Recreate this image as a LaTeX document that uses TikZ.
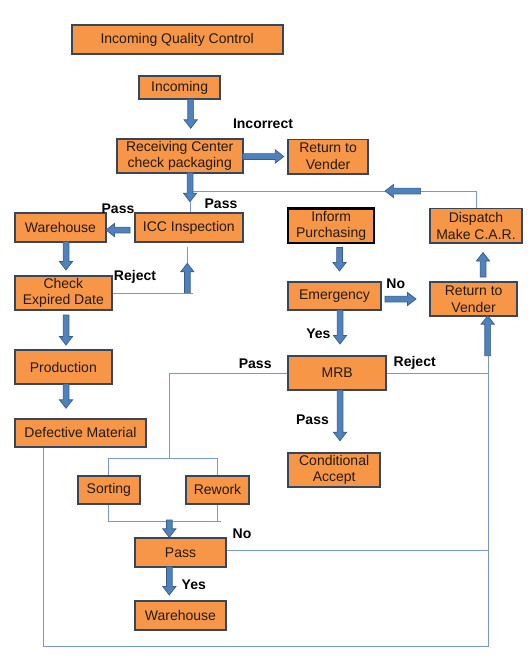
\documentclass[tikz,border=0pt]{standalone}
\usepackage{fontspec}
\setmainfont{Liberation Sans}
\definecolor{boxfill}{HTML}{F79646}
\definecolor{boxedge}{HTML}{34475F}
\definecolor{boxtext}{HTML}{231A12}
\definecolor{arrfill}{HTML}{4F81BD}
\definecolor{arredge}{HTML}{385D8A}
\definecolor{connline}{HTML}{7A9AC6}
\tikzset{
  box/.style={draw=boxedge, line width=1.8pt, fill=boxfill, inner sep=0pt,
    align=center, text=boxtext, font=\fontsize{14}{16.7}\selectfont},
  lbl/.style={font=\bfseries\fontsize{14}{16}\selectfont, inner sep=0pt, text=black},
  conn/.style={draw=connline, line width=0.9pt},
  blk/.style={draw=arredge, fill=arrfill, line width=0.7pt, line join=miter},
}
% \bx[opts]{name}{x1}{y1}{x2}{y2}{text}
\newcommand\bx[7][]{%
  \node[box, minimum width={(#5)-(#3)}, minimum height={(#6)-(#4)}, #1]
    (#2) at ({((#3)+(#5))/2},{((#4)+(#6))/2}) {#7};}
% block arrow from (x1,y1) to (x2,y2)
\newcommand\barrow[4]{%
  \pgfmathsetmacro\bdx{(#3)-(#1)}%
  \pgfmathsetmacro\bdy{(#4)-(#2)}%
  \pgfmathsetmacro\blen{veclen(\bdx,\bdy)}%
  \pgfmathsetmacro\bux{(\bdx)/(\blen)}%
  \pgfmathsetmacro\buy{(\bdy)/(\blen)}%
  \pgfmathsetmacro\bb{(\blen)-8.5}%
  \path[blk] ({#1-2.9*(\buy)},{#2+2.9*(\bux)})
    -- ({#1+(\bb)*(\bux)-2.9*(\buy)},{#2+(\bb)*(\buy)+2.9*(\bux)})
    -- ({#1+(\bb)*(\bux)-6.6*(\buy)},{#2+(\bb)*(\buy)+6.6*(\bux)})
    -- (#3,#4)
    -- ({#1+(\bb)*(\bux)+6.6*(\buy)},{#2+(\bb)*(\buy)-6.6*(\bux)})
    -- ({#1+(\bb)*(\bux)+2.9*(\buy)},{#2+(\bb)*(\buy)-2.9*(\bux)})
    -- ({#1+2.9*(\buy)},{#2-2.9*(\bux)}) -- cycle;}
\begin{document}
\begin{tikzpicture}[x=1pt,y=-1pt]
\useasboundingbox[fill=white] (0,0) rectangle (530,666);

% boxes
\bx{title}{71.6}{25.1}{282.8}{53.8}{Incoming Quality Control}
\bx{inc}{139.3}{76}{220}{99.3}{Incoming}
\bx{rc}{116.7}{139}{242.7}{172.7}{Receiving Center\\check packaging}
\bx{ret1}{288.2}{139.5}{367.9}{173.6}{Return to\\Vender}
\bx{icc}{135}{213.3}{242.7}{241.7}{ICC Inspection}
\bx{wh1}{15}{213.3}{106}{241.7}{Warehouse}
\bx{chk}{15}{276}{111.7}{310}{Check\\Expired Date}
\bx[draw=black, line width=2.2pt]{inf}{288.2}{208.4}{374}{243.1}{Inform\\Purchasing}
\bx{dis}{430}{208.4}{522}{243.1}{Dispatch\\Make C.A.R.}
\bx{emg}{288.3}{282.3}{380.7}{310}{Emergency}
\bx{ret2}{430}{282.3}{517.3}{315.7}{Return to\\Vender}
\bx{prod}{15}{350}{111.7}{384}{Production}
\bx{def}{15}{419}{146}{446.7}{Defective Material}
\bx{mrb}{288.3}{356}{386}{390}{MRB}
\bx{cond}{288.3}{452.7}{380}{487.3}{Conditional\\Accept}
\bx{sort}{77.7}{475.7}{140}{504}{Sorting}
\bx{rew}{185.7}{475.7}{249.3}{504}{Rework}
\bx{pass}{135}{538.3}{226}{566.7}{Pass}
\bx{wh2}{135}{601}{226}{630}{Warehouse}

% thin connectors
\coordinate (topj) at (190,191);
\draw[conn] (dis.north) |- (topj);
\draw[conn] (190,201.7) -- (190,0 |- icc.north);
\coordinate (rejx) at (192.7,0 |- chk.east);
\draw[conn] (chk.east) -- (rejx);
\draw[conn] (187.3,263.3) -- (187.3,247.3);
\coordinate (mrbj) at (169.3,458.3);
\draw[conn] (mrb.west) -| (mrbj);
\draw[conn] (sort.north) -- (sort.north |- mrbj) -| (rew.north);
\coordinate (botj) at (220.7,521.7);
\draw[conn] (sort.south) -- (sort.south |- botj) -- (botj);
\draw[conn] (rew.south) -- (rew.south |- botj);
\coordinate (rline) at (488.3,550.5);
\draw[conn] (pass.east |- rline) -- (rline);
\coordinate (rbot) at (488.3,646.7);
\draw[conn] (def.south -| 43.3,0) |- (rbot) -- (488.3,355.7);
\draw[conn] (mrb.east) -- (mrb.east -| rbot);

% block arrows
\barrow{190.7}{99.3}{190.7}{128.3}
\barrow{242.7}{156.5}{283.8}{156.5}
\barrow{190}{172.7}{190}{201.7}
\barrow{420.6}{191}{385.1}{191}
\barrow{130}{230}{106}{230}
\barrow{66}{241.7}{66}{270}
\barrow{66}{315}{66}{345}
\barrow{66}{384}{66}{408.3}
\barrow{187.3}{292.7}{187.3}{263.3}
\barrow{339.5}{247.5}{339.5}{271}
\barrow{385}{299}{416}{299}
\barrow{483}{277}{483}{252.5}
\barrow{340}{310}{340}{344}
\barrow{340}{390}{340}{440.7}
\barrow{169.3}{520}{169.3}{537.3}
\barrow{169.3}{566.7}{169.3}{595}
\barrow{487.7}{355.7}{487.7}{315.7}

% labels
\node[lbl] (lIncorrect) at (263,123.7) {Incorrect};
\node[lbl] (lPass1) at (221,203.3) {Pass};
\node[lbl] (lPass2) at (118,209) {Pass};
\node[lbl] (lReject1) at (135,277.3) {Reject};
\node[lbl] (lNo1) at (395.8,283.3) {No};
\node[lbl] (lYes1) at (318.4,334) {Yes};
\node[lbl] (lPass3) at (255.2,363.5) {Pass};
\node[lbl] (lReject2) at (414.7,363.3) {Reject};
\node[lbl] (lPass4) at (312.5,420) {Pass};
\node[lbl] (lNo2) at (242,534) {No};
\node[lbl] (lYes2) at (193.8,585) {Yes};
\end{tikzpicture}
\end{document}
